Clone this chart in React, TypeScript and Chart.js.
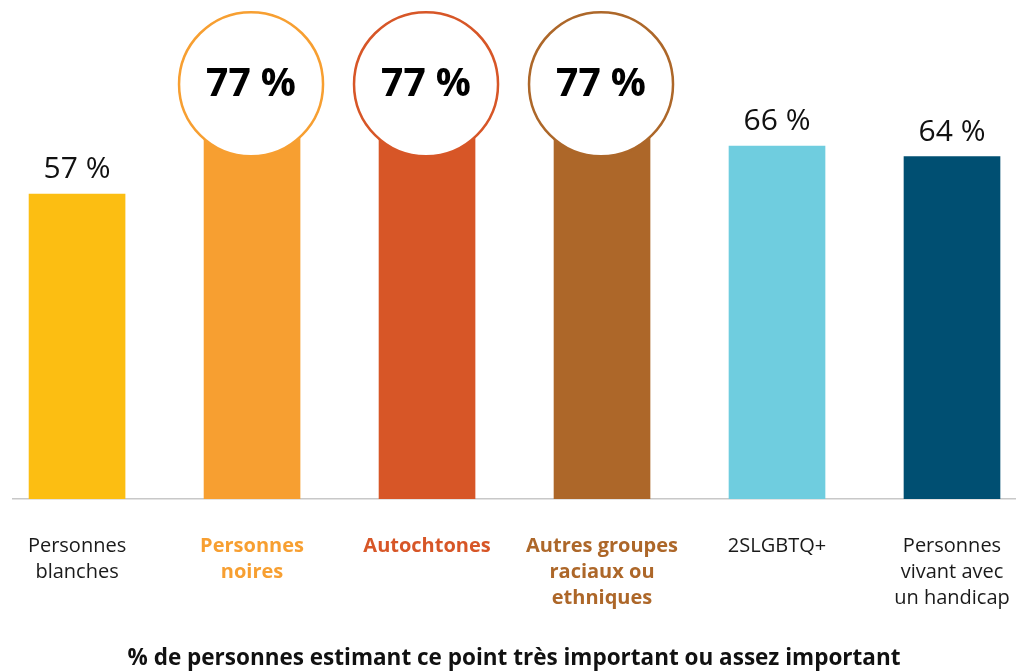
import React, { useEffect, useRef } from "react";
import { Chart, registerables } from "chart.js";

Chart.register(...registerables);

const categories: string[][] = [
  ["Personnes", "blanches"],
  ["Personnes", "noires"],
  ["Autochtones"],
  ["Autres groupes", "raciaux ou", "ethniques"],
  ["2SLGBTQ+"],
  ["Personnes", "vivant avec", "un handicap"],
];
const values: number[] = [57, 77, 77, 77, 66, 64];
const highlighted: boolean[] = [false, true, true, true, false, false];
const barColors: string[] = ["#FCBE12", "#F79F31", "#D75627", "#AD6729", "#6FCDDF", "#004F72"];
const titleText = "% de personnes estimant ce point très important ou assez important";

const FONT = "'Open Sans', sans-serif";

const overlayPlugin = {
  id: "overlay",
  afterDatasetsDraw(chart: any) {
    const ctx = chart.ctx;
    const meta = chart.getDatasetMeta(0);
    meta.data.forEach((bar: any, i: number) => {
      const x = bar.x;
      const y = bar.y;
      const label = `${values[i]} %`;
      ctx.save();
      if (highlighted[i]) {
        const cy = y - 3;
        ctx.beginPath();
        ctx.arc(x - 1, cy, 72, 0, Math.PI * 2);
        ctx.fillStyle = "#ffffff";
        ctx.fill();
        ctx.lineWidth = 2.5;
        ctx.strokeStyle = barColors[i];
        ctx.stroke();
        ctx.fillStyle = "#000000";
        ctx.font = `bold 39px ${FONT}`;
        ctx.textAlign = "center";
        ctx.textBaseline = "middle";
        ctx.fillText(label, x - 1, cy + 1);
      } else {
        ctx.fillStyle = "#111111";
        ctx.font = `normal 30px ${FONT}`;
        ctx.textAlign = "center";
        ctx.textBaseline = "alphabetic";
        ctx.fillText(label, x, y - 16);
      }
      ctx.restore();
    });
  },
};

export default function App() {
  const canvasRef = useRef<HTMLCanvasElement | null>(null);

  useEffect(() => {
    if (!canvasRef.current) return;
    const chart = new Chart(canvasRef.current, {
      type: "bar",
      data: {
        datasets: [
          {
            data: values.map((v, i) => ({ x: i, y: v })),
            backgroundColor: barColors,
            barThickness: 96,
            borderWidth: 0,
          },
        ],
      },
      options: {
        animation: false,
        responsive: true,
        maintainAspectRatio: false,
        layout: { padding: { left: 13, right: 3, top: 0, bottom: 0 } },
        plugins: {
          legend: { display: false },
          tooltip: { enabled: false },
          title: {
            display: true,
            position: "bottom",
            text: titleText,
            color: "#111111",
            font: { family: FONT, size: 22.5, weight: "bold", lineHeight: 1.07 },
            padding: { top: 2, bottom: 1 },
          },
        },
        scales: {
          x: {
            type: "linear",
            offset: false,
            min: -0.366,
            max: 5.36,
            afterFit: (scale: any) => {
              scale.paddingLeft = 0;
              scale.paddingRight = 0;
            },
            grid: { display: false, drawTicks: false },
            border: { display: true, color: "#c8c8c8", width: 1.5 },
            ticks: {
              stepSize: 1,
              includeBounds: false,
              autoSkip: false,
              maxRotation: 0,
              padding: 34,
              callback: (v: any) => {
                const idx = Math.round(Number(v));
                return categories[idx] ?? "";
              },
              color: (c: any) => {
                const idx = Math.round(Number(c.tick?.value));
                return highlighted[idx] ? barColors[idx] : "#1a1a1a";
              },
              font: (c: any) => {
                const idx = Math.round(Number(c.tick?.value));
                return {
                  family: FONT,
                  size: 20,
                  weight: highlighted[idx] ? "bold" : "normal",
                  lineHeight: 26 / 20,
                };
              },
            },
          },
          y: {
            display: false,
            min: 0,
            max: 93.3,
          },
        },
      },
      plugins: [overlayPlugin],
    } as any);
    return () => chart.destroy();
  }, []);

  return (
    <div style={{ position: "absolute", left: 0, top: 0, width: 1018, height: 672 }}>
      <canvas ref={canvasRef} />
    </div>
  );
}
